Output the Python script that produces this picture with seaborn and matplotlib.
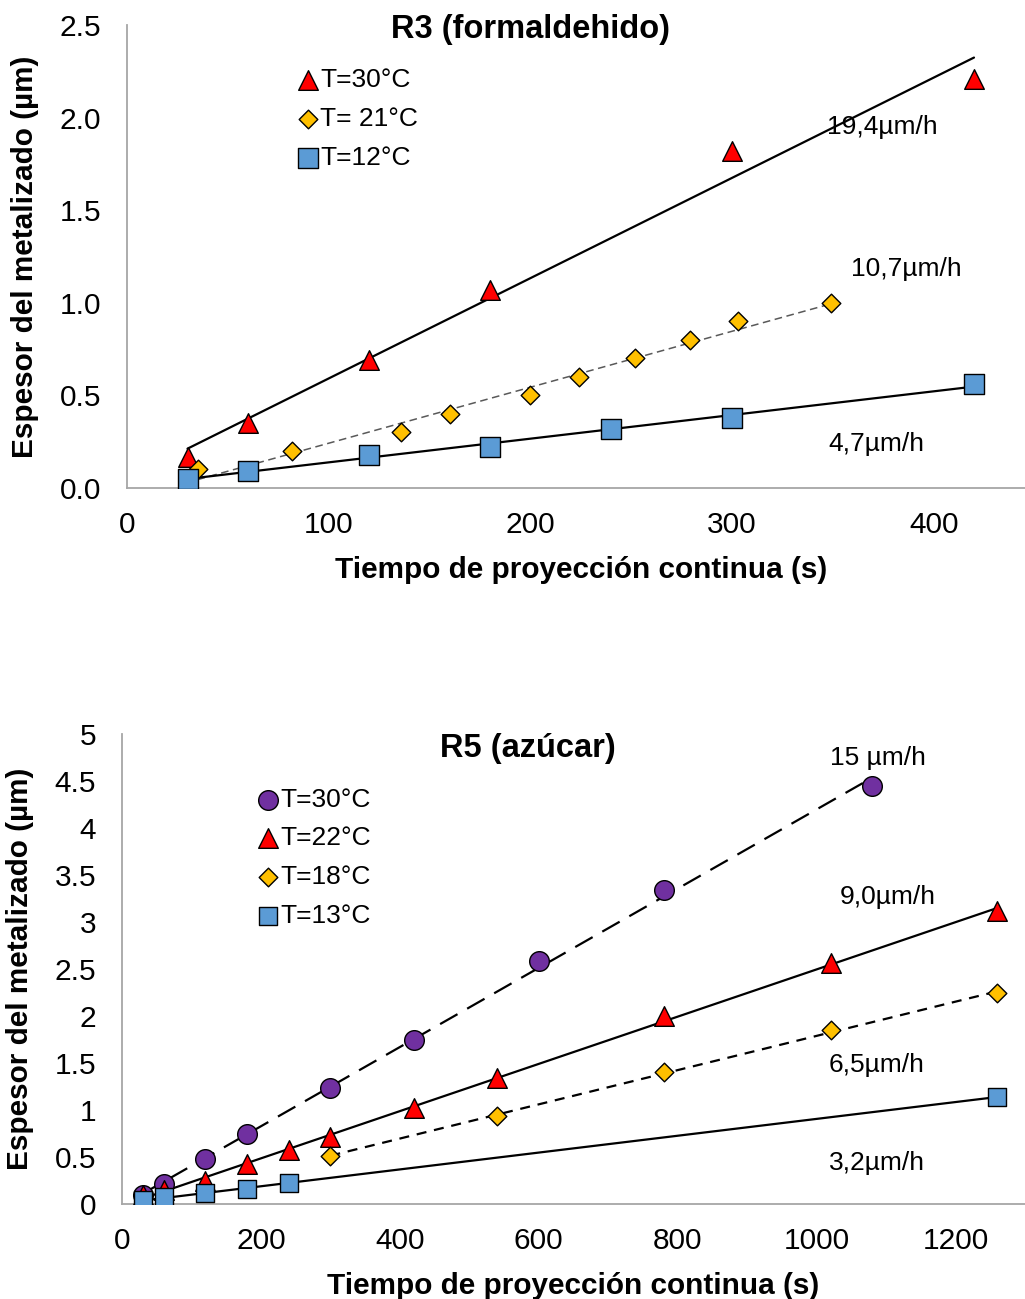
import numpy as np
import pandas as pd
import seaborn as sns
import matplotlib.pyplot as plt
from matplotlib.ticker import FuncFormatter

# R3 (formaldehido)
r3_t30_x = [30, 60, 120, 180, 300, 420]
r3_t30_y = [0.17, 0.35, 0.69, 1.07, 1.82, 2.21]
r3_t21_x = [35, 82, 136, 160, 200, 224, 252, 279, 303, 349]
r3_t21_y = [0.10, 0.20, 0.30, 0.40, 0.50, 0.60, 0.70, 0.80, 0.90, 1.00]
r3_t12_x = [30, 60, 120, 180, 240, 300, 420]
r3_t12_y = [0.05, 0.09, 0.18, 0.22, 0.32, 0.38, 0.56]
r3_rates = ["19,4µm/h", "10,7µm/h", "4,7µm/h"]

# R5 (azucar)
r5_t30_x = [30, 60, 120, 180, 300, 420, 600, 780, 1080]
r5_t30_y = [0.10, 0.21, 0.48, 0.75, 1.23, 1.75, 2.59, 3.34, 4.45]
r5_t22_x = [30, 60, 120, 180, 240, 300, 420, 540, 780, 1020, 1260]
r5_t22_y = [0.10, 0.15, 0.25, 0.43, 0.57, 0.71, 1.02, 1.34, 2.00, 2.56, 3.12]
r5_t18_x = [300, 540, 780, 1020, 1260]
r5_t18_y = [0.51, 0.94, 1.40, 1.85, 2.24]
r5_t13_x = [30, 60, 120, 180, 240, 1260]
r5_t13_y = [0.04, 0.07, 0.12, 0.16, 0.22, 1.14]
r5_rates = ["15 µm/h", "9,0µm/h", "6,5µm/h", "3,2µm/h"]

RED = "#FF0000"
GOLD = "#FFC000"
BLUE = "#5B9BD5"
PURPLE = "#7030A0"
GREY = "#A6A6A6"

sns.set_theme(style="white")
plt.rcParams["font.family"] = ["Liberation Sans", "DejaVu Sans"]
plt.rcParams["text.color"] = "black"
plt.rcParams["axes.labelcolor"] = "black"


def trend(ax, x, y, **kw):
    k, b = np.polyfit(x, y, 1)
    xs = np.array([min(x), max(x)])
    ax.plot(xs, k * xs + b, zorder=2, **kw)


def points(ax, x, y, label, marker, color, size):
    df = pd.DataFrame({"x": x, "y": y})
    sns.scatterplot(data=df, x="x", y="y", ax=ax, marker=marker, color=color,
                    s=size, edgecolor="black", linewidth=1, label=label, zorder=3)


def style_axes(ax, xlim, ylim, xticks, yticks, fmt):
    ax.set_xlim(*xlim)
    ax.set_ylim(*ylim)
    ax.set_xticks(xticks)
    ax.set_yticks(yticks)
    ax.yaxis.set_major_formatter(FuncFormatter(fmt))
    for s in ["top", "right"]:
        ax.spines[s].set_visible(False)
    for s in ["left", "bottom"]:
        ax.spines[s].set_color(GREY)
        ax.spines[s].set_linewidth(1.3)
    ax.tick_params(axis="both", direction="out", length=6.5, width=1.3,
                   color=GREY, labelsize=21.5, labelcolor="black")
    ax.tick_params(axis="y", pad=12)
    ax.tick_params(axis="x", pad=10)
    ax.set_xlabel("Tiempo de proyección continua (s)", fontsize=21.4, fontweight="bold", labelpad=12)
    ax.set_ylabel("Espesor del metalizado (µm)", fontsize=21.4, fontweight="bold", labelpad=15)


def legend(ax, anchor):
    ax.legend(loc="upper left", bbox_to_anchor=anchor, frameon=False, fontsize=19,
              handletextpad=0.0, labelspacing=0.56, borderpad=0, handlelength=0.9)


fig = plt.figure(figsize=(10.25, 12.99), dpi=100)

# ---- top chart ----
ax1 = fig.add_axes([127 / 1025, 1 - 488 / 1299, 907.5 / 1025, 463 / 1299])
trend(ax1, r3_t30_x, r3_t30_y, color="black", lw=1.6)
trend(ax1, r3_t21_x, r3_t21_y, color="#595959", lw=1.1, ls=(0, (5, 3)))
trend(ax1, r3_t12_x, r3_t12_y, color="black", lw=1.6)
points(ax1, r3_t30_x, r3_t30_y, "T=30°C", "^", RED, 200)
points(ax1, r3_t21_x, r3_t21_y, "T= 21°C", "D", GOLD, 90)
points(ax1, r3_t12_x, r3_t12_y, "T=12°C", "s", BLUE, 190)
style_axes(ax1, (0, 450), (0, 2.5), [0, 100, 200, 300, 400],
           [0, 0.5, 1.0, 1.5, 2.0, 2.5], lambda v, p: f"{v:.1f}")
ax1.text(0.445, 0.99, "R3 (formaldehido)", transform=ax1.transAxes, ha="center",
         va="center", fontsize=23.5, fontweight="bold")
for txt, (tx, ty) in zip(r3_rates, [(347, 1.95), (359, 1.18), (348, 0.24)]):
    ax1.text(tx, ty, txt, fontsize=19, ha="left", va="center")
legend(ax1, (0.172, 0.935))

# ---- bottom chart ----
ax2 = fig.add_axes([122 / 1025, 1 - 1204 / 1299, 903 / 1025, 470 / 1299])
trend(ax2, r5_t30_x, r5_t30_y, color="black", lw=1.6, ls=(0, (9, 5)))
trend(ax2, r5_t22_x, r5_t22_y, color="black", lw=1.6)
trend(ax2, r5_t18_x, r5_t18_y, color="black", lw=1.6, ls=(0, (4.5, 3.5)))
trend(ax2, r5_t13_x, r5_t13_y, color="black", lw=1.6)
points(ax2, r5_t30_x, r5_t30_y, "T=30°C", "o", PURPLE, 200)
points(ax2, r5_t22_x, r5_t22_y, "T=22°C", "^", RED, 200)
points(ax2, r5_t18_x, r5_t18_y, "T=18°C", "D", GOLD, 90)
points(ax2, r5_t13_x, r5_t13_y, "T=13°C", "s", BLUE, 180)
style_axes(ax2, (0, 1300), (0, 5), [0, 200, 400, 600, 800, 1000, 1200],
           [0, 0.5, 1, 1.5, 2, 2.5, 3, 3.5, 4, 4.5, 5], lambda v, p: f"{v:g}")
ax2.text(0.449, 0.970, "R5 (azúcar)", transform=ax2.transAxes, ha="center",
         va="center", fontsize=23.5, fontweight="bold")
for txt, (tx, ty) in zip(r5_rates, [(1019, 4.75), (1033, 3.27), (1018, 1.48), (1018, 0.435)]):
    ax2.text(tx, ty, txt, fontsize=19, ha="left", va="center")
legend(ax2, (0.134, 0.914))

fig.savefig("out.png", dpi=100)
